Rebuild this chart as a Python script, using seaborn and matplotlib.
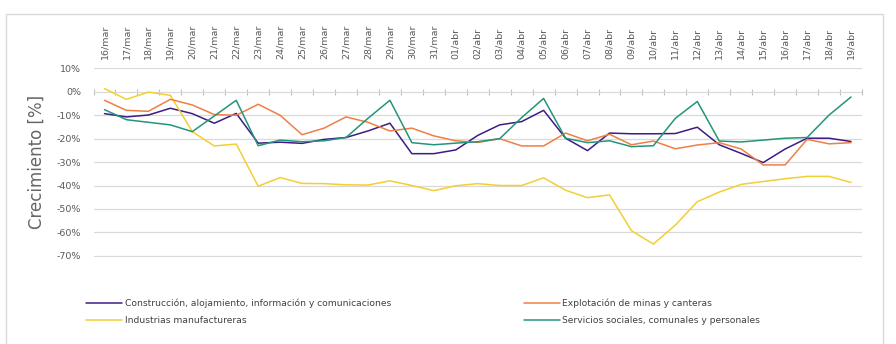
import matplotlib
matplotlib.use("Agg")
import matplotlib.pyplot as plt
import seaborn as sns
import pandas as pd
import numpy as np
from matplotlib.patches import Rectangle

sns.set_theme(style="white")
plt.rcParams['font.family'] = ['DejaVu Sans']

dates = ["16/mar", "17/mar", "18/mar", "19/mar", "20/mar", "21/mar", "22/mar", "23/mar",
         "24/mar", "25/mar", "26/mar", "27/mar", "28/mar", "29/mar", "30/mar", "31/mar",
         "01/abr", "02/abr", "03/abr", "04/abr", "05/abr", "06/abr", "07/abr", "08/abr",
         "09/abr", "10/abr", "11/abr", "12/abr", "13/abr", "14/abr", "15/abr", "16/abr",
         "17/abr", "18/abr", "19/abr"]

construccion = [-9.3, -10.7, -9.9, -7.0, -9.3, -13.4, -9.2, -21.9, -21.5, -22.0, -20.3, -19.5,
                -16.7, -13.4, -26.4, -26.4, -24.8, -18.6, -14.1, -12.7, -7.9, -19.8, -25.1, -17.6,
                -17.9, -17.9, -17.8, -15.1, -22.6, -26.3, -30.2, -24.4, -19.8, -19.8, -21.2]
explotacion = [-3.6, -7.9, -8.3, -3.2, -5.6, -9.7, -10.0, -5.3, -10.0, -18.3, -15.5, -10.7,
               -13.0, -16.7, -15.5, -18.8, -20.9, -21.6, -20.0, -23.1, -23.1, -17.6, -20.9, -18.1,
               -22.6, -21.0, -24.3, -22.7, -21.7, -24.4, -31.2, -31.2, -20.3, -22.2, -21.7]
industrias = [1.4, -3.2, -0.1, -1.5, -17.0, -23.1, -22.3, -40.3, -36.6, -39.1, -39.2, -39.7,
              -39.8, -38.0, -40.0, -42.2, -40.1, -39.2, -40.0, -40.0, -36.7, -42.0, -45.2, -44.0,
              -59.3, -65.0, -56.9, -46.9, -42.8, -39.5, -38.3, -37.1, -36.1, -36.1, -38.7]
servicios = [-7.6, -11.9, -13.0, -14.1, -17.0, -10.3, -3.6, -23.0, -20.6, -21.3, -20.9, -19.5,
             -11.3, -3.6, -21.7, -22.6, -21.9, -21.3, -20.0, -11.0, -2.8, -19.8, -21.7, -20.9,
             -23.4, -23.0, -11.3, -4.1, -21.0, -21.4, -20.6, -19.8, -19.5, -9.9, -2.2]

series_names = ["Construcción, alojamiento, información y comunicaciones",
                "Industrias manufactureras",
                "Explotación de minas y canteras",
                "Servicios sociales, comunales y personales"]
colors = ["#3d1c85", "#f2cf33", "#ef7f45", "#23957a"]

df = pd.DataFrame({
    "idx": np.tile(np.arange(len(dates)), 4),
    "valor": construccion + industrias + explotacion + servicios,
    "serie": np.repeat(series_names, len(dates)),
})

W, H = 896, 344
fig = plt.figure(figsize=(W / 100, H / 100), dpi=100)
fig.patch.set_facecolor("white")

# chart border
fig.patches.append(Rectangle((6 / W, -0.05), (883 - 6) / W, (H - 14) / H + 0.05,
                             transform=fig.transFigure, fill=False,
                             edgecolor="#d9d9d9", linewidth=1.0, zorder=0))

left, right, top, bottom = 93.5, 862, 67.5, 256.7
ax = fig.add_axes([left / W, 1 - bottom / H, (right - left) / W, (bottom - top) / H])

sns.lineplot(data=df, x="idx", y="valor", hue="serie", hue_order=series_names,
             palette=colors, linewidth=1.1, ax=ax, legend=True)

ax.set_xlim(-0.5, len(dates) - 0.5)
ax.set_ylim(-70.4, 10.4)
yt = list(range(-70, 11, 10))
ax.set_yticks(yt)
ax.set_yticklabels([f"{v}%" for v in yt], fontsize=6.8, color="#595959")
ax.yaxis.grid(True, color="#d9d9d9", linewidth=0.9)
ax.xaxis.grid(False)
ax.tick_params(axis="y", length=0, pad=9)
for s in ax.spines.values():
    s.set_visible(False)

ax.xaxis.tick_top()
ax.set_xticks(np.arange(len(dates)))
ax.set_xticklabels(dates, rotation=90, fontsize=6.8, color="#595959")
ax.tick_params(axis="x", length=0, pad=6)
ax.set_xlabel("")
ax.set_ylabel("Crecimiento [%]", fontsize=12, color="#666666", labelpad=8)

# category axis line at 0%
sec = ax.secondary_xaxis((0 + 70.4) / 80.8)
sec.set_xticks(np.arange(-0.5, len(dates), 1.0))
sec.set_xticklabels([])
sec.tick_params(axis="x", direction="inout", length=4, color="#bfbfbf", width=0.8)
sec.spines["bottom"].set_color("#bfbfbf")
sec.spines["bottom"].set_linewidth(0.9)
for k in ["top", "left", "right"]:
    if k in sec.spines:
        sec.spines[k].set_visible(False)

handles, labels = ax.get_legend_handles_labels()
ax.get_legend().remove()
leg = fig.legend(handles, labels, ncol=2, loc="upper left",
                 bbox_to_anchor=(78 / W, 1 - 290 / H), frameon=False,
                 fontsize=6.6, handlelength=3.9, handletextpad=0.3,
                 columnspacing=14.5, labelspacing=0.95)
for t in leg.get_texts():
    t.set_color("#404040")

fig.savefig("out.png", dpi=100)
